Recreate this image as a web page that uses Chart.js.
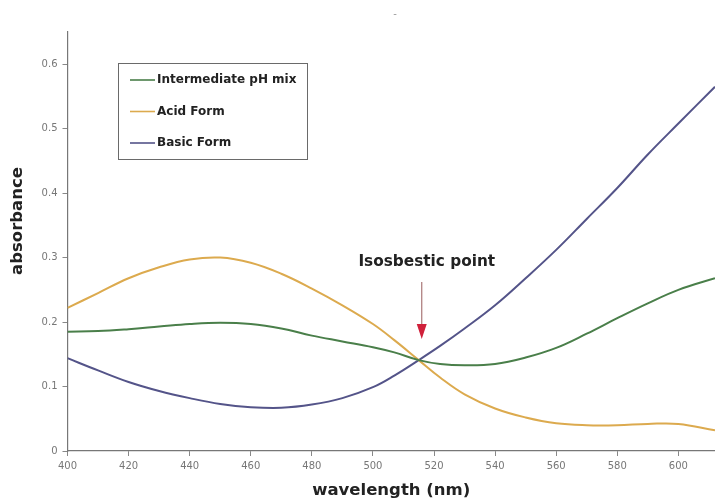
<!DOCTYPE html>
<html>
<head>
<meta charset="utf-8">
<title>Absorbance spectra</title>
<script src="https://cdn.jsdelivr.net/npm/chart.js@4/dist/chart.umd.min.js"></script>
<style>
  html, body { margin: 0; padding: 0; background: #fff; }
  #wrap { width: 715px; height: 501px; position: relative; }
  #chart { filter: blur(0.5px); }
</style>
</head>
<body>
<div id="wrap"><canvas id="chart" width="715" height="501"></canvas></div>
<script>
// Wavelengths (nm) at which each spectrum is sampled
const wavelengths = [400, 410, 420, 430, 440, 450, 460, 470, 480, 490, 500, 507, 515, 522, 530, 540, 550, 560, 570, 580, 590, 600, 612];

// Absorbance of each solution
const intermediateMix = [0.185, 0.186, 0.189, 0.193, 0.197, 0.199, 0.197, 0.190, 0.179, 0.170, 0.161, 0.153, 0.141, 0.135, 0.133, 0.135, 0.145, 0.160, 0.182, 0.206, 0.229, 0.250, 0.268];
const acidForm        = [0.222, 0.245, 0.268, 0.285, 0.297, 0.300, 0.292, 0.275, 0.252, 0.226, 0.197, 0.172, 0.141, 0.114, 0.088, 0.066, 0.052, 0.043, 0.040, 0.040, 0.042, 0.042, 0.032];
const basicForm       = [0.144, 0.125, 0.107, 0.093, 0.082, 0.073, 0.068, 0.067, 0.072, 0.082, 0.099, 0.117, 0.141, 0.163, 0.190, 0.226, 0.268, 0.312, 0.360, 0.408, 0.460, 0.508, 0.565];

// Axis ticks
const xTicks = [400, 420, 440, 460, 480, 500, 520, 540, 560, 580, 600];
const yTicks = [0, 0.1, 0.2, 0.3, 0.4, 0.5, 0.6];

// Where all three spectra cross
const isosbestic = { x: 515, y: 0.141 };

const seriesNames = ['Intermediate pH mix', 'Acid Form', 'Basic Form'];
const seriesColors = ['#4a7f4a', '#dcaa4e', '#545489'];
const seriesValues = [intermediateMix, acidForm, basicForm];

const FONT = '"DejaVu Sans", Verdana, sans-serif';

const datasets = seriesNames.map((name, i) => ({
  label: name,
  data: wavelengths.map((w, j) => ({ x: w, y: seriesValues[i][j] })),
  borderColor: seriesColors[i],
  borderWidth: 2,
  pointRadius: 0,
  fill: false,
  tension: 0.4
}));

// Boxed legend inside the plot, the y-axis caption, the arrow callout and the small heading
const overlay = {
  id: 'overlay',
  afterDraw(chart) {
    const ctx = chart.ctx;
    const xs = chart.scales.x, ys = chart.scales.y;
    ctx.save();

    // heading mark
    ctx.fillStyle = '#999';
    ctx.font = '10px ' + FONT;
    ctx.textAlign = 'center';
    ctx.textBaseline = 'middle';
    ctx.fillText('-', 395, 14);

    // y-axis caption
    ctx.save();
    ctx.translate(18, 221);
    ctx.rotate(-Math.PI / 2);
    ctx.fillStyle = '#222';
    ctx.font = 'bold 16.5px ' + FONT;
    ctx.fillText('absorbance', 0, 0);
    ctx.restore();

    // legend
    ctx.strokeStyle = '#6a6a6a';
    ctx.lineWidth = 1;
    ctx.strokeRect(118.5, 63.5, 189, 96);
    ctx.font = 'bold 12px ' + FONT;
    ctx.textAlign = 'left';
    chart.data.datasets.forEach((ds, i) => {
      const y = 80 + i * 31.5;
      ctx.strokeStyle = ds.borderColor;
      ctx.lineWidth = 1.6;
      ctx.beginPath();
      ctx.moveTo(130, y);
      ctx.lineTo(155, y);
      ctx.stroke();
      ctx.fillStyle = '#222';
      ctx.fillText(ds.label, 157, y);
    });

    // callout text and arrow toward the isosbestic point
    const px = xs.getPixelForValue(isosbestic.x);
    const py = ys.getPixelForValue(isosbestic.y);
    ctx.fillStyle = '#222';
    ctx.font = 'bold 15.3px ' + FONT;
    ctx.textAlign = 'center';
    ctx.fillText('Isosbestic point', px + 8, py - 98);
    ctx.strokeStyle = '#a77';
    ctx.lineWidth = 1.2;
    ctx.beginPath();
    ctx.moveTo(px + 3, py - 78);
    ctx.lineTo(px + 3, py - 30);
    ctx.stroke();
    ctx.fillStyle = '#d0213b';
    ctx.beginPath();
    ctx.moveTo(px - 2, py - 36);
    ctx.lineTo(px + 8, py - 36);
    ctx.lineTo(px + 3, py - 21);
    ctx.closePath();
    ctx.fill();
    ctx.restore();
  }
};

new Chart(document.getElementById('chart'), {
  type: 'line',
  data: { datasets },
  plugins: [overlay],
  options: {
    responsive: false,
    animation: false,
    layout: { padding: { top: 32, right: 0, left: 0, bottom: 0 } },
    plugins: {
      legend: { display: false },
      tooltip: { enabled: false },
      title: { display: false }
    },
    scales: {
      x: {
        type: 'linear',
        min: 400,
        max: 612,
        afterBuildTicks(axis) { axis.ticks = xTicks.map(v => ({ value: v })); },
        afterFit(axis) { axis.height = 50; },
        border: { display: true, color: '#777', width: 1.2 },
        grid: { display: true, drawOnChartArea: false, drawTicks: true, tickLength: 5, color: '#888' },
        ticks: {
          color: '#777',
          font: { size: 10, family: FONT },
          padding: 4,
          maxRotation: 0,
          callback: v => String(v)
        },
        title: {
          display: true,
          text: 'wavelength (nm)',
          color: '#222',
          font: { size: 16.5, weight: 'bold', family: FONT },
          padding: { top: 0, bottom: 0 }
        }
      },
      y: {
        min: 0,
        max: 0.65,
        afterBuildTicks(axis) { axis.ticks = yTicks.map(v => ({ value: v })); },
        afterFit(axis) { axis.width = 67.5; },
        border: { display: true, color: '#777', width: 1.2 },
        grid: { display: true, drawOnChartArea: false, drawTicks: true, tickLength: 5, color: '#888' },
        ticks: {
          color: '#777',
          font: { size: 10, family: FONT },
          padding: 5,
          callback: v => String(v)
        },
        title: { display: false }
      }
    }
  }
});
</script>
</body>
</html>
